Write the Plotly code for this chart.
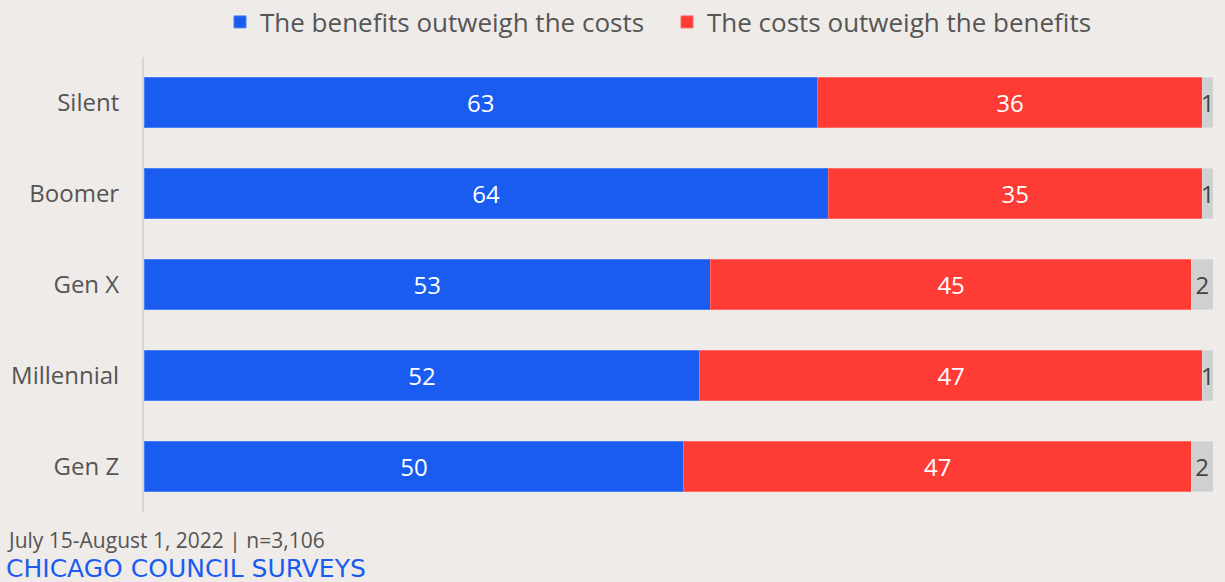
import plotly.graph_objects as go

# Survey results by generation (percent)
generations = ["Silent", "Boomer", "Gen X", "Millennial", "Gen Z"]
benefits = [63, 64, 53, 52, 50]
costs = [36, 35, 45, 47, 47]
no_answer = [1, 1, 2, 1, 2]

BG = "#efebe8"
BLUE = "#1a5cf0"
RED = "#ff3b36"
GREY = "#d1d0d0"
TEXT = "#555555"
FONT = "Open Sans"

fig = go.Figure()

series = [
    ("The benefits outweigh the costs", benefits, BLUE, "#4a80f5", "white", True),
    ("The costs outweigh the benefits", costs, RED, "#ff6a66", "white", True),
    ("No answer", no_answer, GREY, "#dcdbdb", "#444444", False),
]
for name, vals, color, edge, tcolor, show in series:
    fig.add_trace(go.Bar(
        y=generations, x=vals, name=name, orientation="h",
        marker=dict(color=color, line=dict(color=edge, width=1)),
        text=[str(v) for v in vals], textposition="inside",
        insidetextanchor="middle", textangle=0, constraintext="none",
        textfont=dict(color=tcolor, size=24, family=FONT),
        showlegend=show, hoverinfo="x+y+name",
    ))

PW, PH = 1069, 455  # plot area size in pixels

fig.update_layout(
    barmode="stack", barnorm="percent", bargap=0.44,
    width=1225, height=582,
    paper_bgcolor=BG, plot_bgcolor=BG,
    margin=dict(l=144, r=12, t=57, b=70, autoexpand=False),
    font=dict(family=FONT, color=TEXT, size=22),
    legend=dict(
        orientation="h", traceorder="normal",
        x=76 / PW, xanchor="left", yref="container", y=1 - 22 / 582, yanchor="middle",
        font=dict(size=26, color=TEXT, family=FONT),
        entrywidth=402, entrywidthmode="pixels", bgcolor="rgba(0,0,0,0)",
    ),
    xaxis=dict(range=[0, 100], visible=False, fixedrange=True, automargin=False),
    yaxis=dict(
        categoryorder="array", categoryarray=generations[::-1],
        showline=True, linecolor="#d8d6d4", linewidth=2, automargin=False,
        ticks="", ticklabelstandoff=18, showgrid=False,
        tickfont=dict(size=24, color=TEXT, family=FONT),
    ),
    annotations=[
        dict(text="July 15-August 1, 2022 | n=3,106", xref="paper", yref="paper",
             x=-138 / PW, y=-28 / PH, xanchor="left", yanchor="middle",
             borderpad=0, showarrow=False,
             font=dict(size=21, color=TEXT, family=FONT)),
        dict(text="CHICAGO COUNCIL SURVEYS", xref="paper", yref="paper",
             x=-139 / PW, y=-56 / PH, xanchor="left", yanchor="middle",
             borderpad=0, showarrow=False,
             font=dict(size=25, color=BLUE, family="DejaVu Sans")),
    ],
)

fig.write_html("out.html")
